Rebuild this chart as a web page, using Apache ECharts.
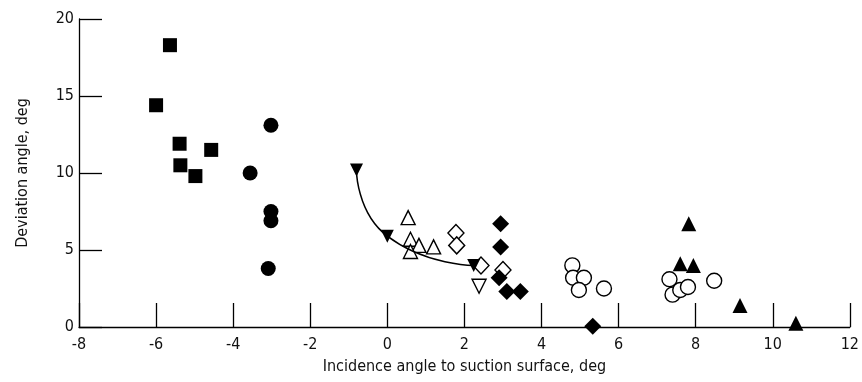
<!DOCTYPE html>
<html>
<head>
<meta charset="utf-8">
<script src="https://cdn.jsdelivr.net/npm/echarts@6/dist/echarts.min.js"></script>
<style>
html, body { margin: 0; padding: 0; background: #fff; }
#main { width: 862px; height: 382px; }
</style>
</head>
<body>
<div id="main"></div>
<script>
// incidence angle (deg), deviation angle (deg)
var filledSquares = [[-5.64, 18.3], [-6.0, 14.4], [-5.39, 11.9], [-5.37, 10.5], [-4.98, 9.8], [-4.57, 11.5]];
var filledCircles = [[-3.02, 13.1], [-3.56, 10.0], [-3.02, 7.5], [-3.02, 6.9], [-3.09, 3.8]];
var filledDownTri = [[-0.8, 10.2], [0.0, 5.9], [2.24, 4.0]];
var openUpTri = [[0.54, 7.1], [0.6, 5.7], [0.82, 5.3], [0.6, 4.9], [1.2, 5.2]];
var openDownTri = [[2.38, 2.65]];
var openDiamonds = [[1.78, 6.1], [1.8, 5.3], [2.43, 4.0], [3.0, 3.7]];
var filledDiamonds = [[2.94, 6.7], [2.94, 5.2], [2.9, 3.2], [3.1, 2.3], [3.45, 2.3], [5.33, 0.05]];
var openCircles = [[4.8, 4.0], [4.82, 3.2], [5.1, 3.2], [4.97, 2.4], [5.62, 2.5],
                   [7.32, 3.1], [7.4, 2.1], [7.6, 2.4], [7.8, 2.6], [8.48, 3.0]];
var filledUpTri = [[7.82, 6.7], [7.6, 4.1], [7.94, 4.0], [9.15, 1.4], [10.6, 0.25]];

var font = "'Liberation Sans Narrow', 'DejaVu Sans Condensed', sans-serif";
var filled = { color: '#000', opacity: 1 };
var open = { color: '#fff', borderColor: '#000', borderWidth: 1.4, opacity: 1 };

var myChart = echarts.init(document.getElementById('main'));
var option = {
    backgroundColor: '#fff',
    animation: false,
    grid: { left: 79, right: 9, top: 19, bottom: 55 },
    xAxis: {
        type: 'value', min: -8, max: 12, interval: 2,
        name: 'Incidence angle to suction surface, deg',
        nameLocation: 'middle', nameGap: 32,
        nameTextStyle: { fontFamily: font, fontSize: 16, color: '#111' },
        axisLine: { onZero: false, lineStyle: { color: '#000', width: 1.3 } },
        axisTick: { inside: true, length: 24, lineStyle: { color: '#000', width: 1.3 } },
        axisLabel: { fontFamily: font, fontSize: 16, color: '#111', margin: 10 },
        splitLine: { show: false }
    },
    yAxis: {
        type: 'value', min: 0, max: 20, interval: 5,
        name: 'Deviation angle, deg',
        nameLocation: 'middle', nameGap: 48,
        nameTextStyle: { fontFamily: font, fontSize: 16, color: '#111' },
        axisLine: { show: true, onZero: false, lineStyle: { color: '#000', width: 1.3 } },
        axisTick: { inside: true, length: 23, lineStyle: { color: '#000', width: 1.3 } },
        axisLabel: { fontFamily: font, fontSize: 16, color: '#111', margin: 5 },
        splitLine: { show: false }
    },
    series: [
        { type: 'scatter', data: filledSquares, symbol: 'rect', symbolSize: 14, itemStyle: filled },
        { type: 'scatter', data: filledCircles, symbol: 'circle', symbolSize: 15, itemStyle: filled },
        { type: 'line', data: filledDownTri, smooth: 0.6, symbol: 'triangle', symbolRotate: 180, symbolSize: 13,
          showSymbol: true, lineStyle: { color: '#000', width: 1.5 }, itemStyle: filled },
        { type: 'scatter', data: openUpTri, symbol: 'triangle', symbolSize: 14, itemStyle: open },
        { type: 'scatter', data: openDownTri, symbol: 'triangle', symbolRotate: 180, symbolSize: 14, itemStyle: open },
        { type: 'scatter', data: openDiamonds, symbol: 'diamond', symbolSize: [16, 17], itemStyle: open },
        { type: 'scatter', data: filledDiamonds, symbol: 'diamond', symbolSize: [17, 17], itemStyle: filled },
        { type: 'scatter', data: openCircles, symbol: 'circle', symbolSize: 15, itemStyle: open },
        { type: 'scatter', data: filledUpTri, symbol: 'triangle', symbolSize: 15, itemStyle: filled }
    ]
};
myChart.setOption(option);
</script>
</body>
</html>
